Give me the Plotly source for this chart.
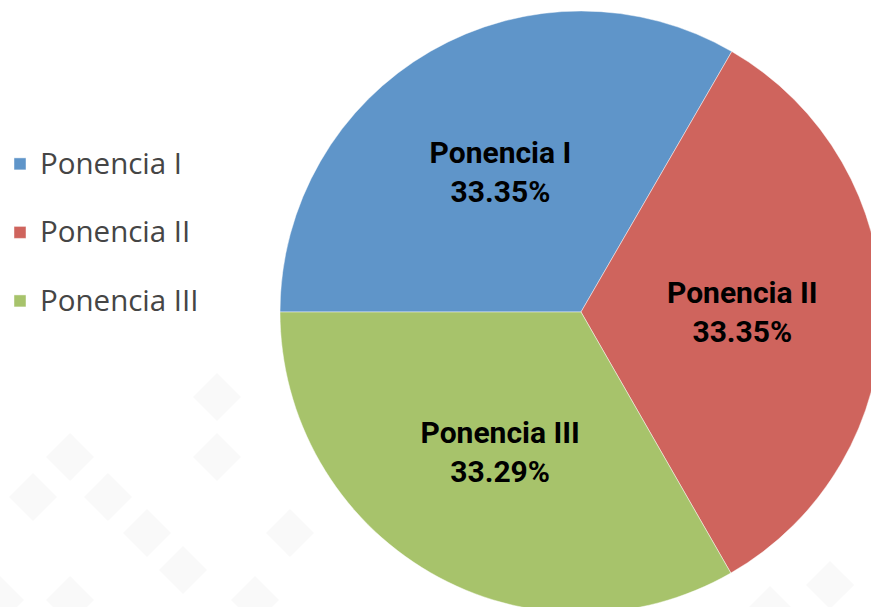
import plotly.graph_objects as go

categories = ["Ponencia I", "Ponencia II", "Ponencia III"]
values = [33.35, 33.35, 33.29]
colors = ["#5f95c9", "#cf645d", "#a7c36b"]

W, H = 890, 620

legend_labels = ["<span style='font-size:29.5px'>" + c + "</span><br> " for c in categories]

fig = go.Figure()
fig.add_trace(go.Pie(
    labels=legend_labels,
    values=values,
    text=categories,
    sort=False,
    direction="clockwise",
    rotation=270,
    marker=dict(colors=colors, line=dict(color="rgba(255,255,255,0.45)", width=1)),
    texttemplate="<b>%{text}<br>%{percent:.2%}</b>",
    textposition="inside",
    insidetextorientation="horizontal",
    insidetextfont=dict(family="Roboto", size=30, color="#000000"),
    hoverinfo="skip",
    domain=dict(x=[280 / W, 882 / W], y=[1 - 613 / H, 1 - 11 / H]),
))

# faint decorative diamonds in the background
diamonds = [(70, 457), (108, 497), (147, 533), (183, 570), (33, 497), (217, 457),
            (290, 533), (70, 600), (0, 600), (255, 600), (830, 585), (770, 610), (217, 397)]
shapes = []
for cx, cy in diamonds:
    d = 24
    pts = [(cx, cy - d), (cx + d, cy), (cx, cy + d), (cx - d, cy)]
    path = "M " + " L ".join(f"{px / W:.4f},{1 - py / H:.4f}" for px, py in pts) + " Z"
    shapes.append(dict(type="path", path=path, xref="paper", yref="paper",
                       fillcolor="#f9f9f9", line=dict(width=0), layer="below"))

fig.update_layout(
    width=W, height=H,
    margin=dict(l=0, r=0, t=0, b=0),
    paper_bgcolor="white",
    plot_bgcolor="white",
    shapes=shapes,
    showlegend=True,
    legend=dict(x=0.0, y=1 - 141 / H, xanchor="left", yanchor="top",
                font=dict(family="Open Sans", size=25.2, color="#454545"),
                valign="top", bgcolor="rgba(0,0,0,0)"),
)

fig.write_html("out.html", config={"displayModeBar": False},
               post_script="document.body.style.margin='0';document.body.style.overflow='hidden';document.documentElement.style.overflow='hidden';")
